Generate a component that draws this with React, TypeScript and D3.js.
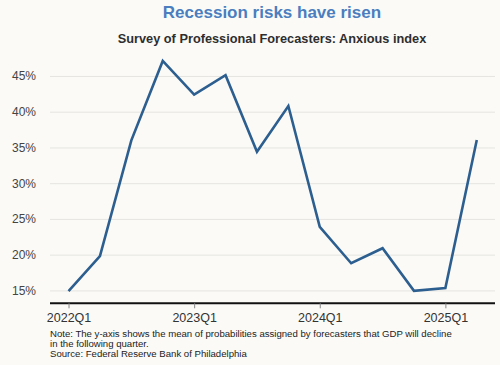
import React, { useEffect, useRef } from 'react';
import * as d3 from 'd3';

const quarters = [
  '2022Q1', '2022Q2', '2022Q3', '2022Q4',
  '2023Q1', '2023Q2', '2023Q3', '2023Q4',
  '2024Q1', '2024Q2', '2024Q3', '2024Q4',
  '2025Q1', '2025Q2'
];
const anxious = [14.9, 19.8, 36.0, 47.1, 42.4, 45.1, 34.4, 40.8, 23.9, 18.8, 20.9, 14.95, 15.35, 36.05];
const yTicks = [15, 20, 25, 30, 35, 40, 45];
const xTickLabels = ['2022Q1', '2023Q1', '2024Q1', '2025Q1'];
const noteLines = [
  'Note: The y-axis shows the mean of probabilities assigned by forecasters that GDP will decline',
  'in the following quarter.',
  'Source: Federal Reserve Bank of Philadelphia'
];

const FONT = "'Liberation Sans', Arial, sans-serif";

const App = () => {
  const svgRef = useRef<SVGSVGElement>(null);

  useEffect(() => {
    if (!svgRef.current) return;
    const svg = d3.select(svgRef.current);
    svg.selectAll('*').remove();

    const width = 500;
    const height = 365;

    svg.append('rect')
      .attr('width', width)
      .attr('height', height)
      .attr('fill', '#fbfaf7');

    // Title + subtitle
    svg.append('text')
      .attr('x', 272)
      .attr('y', 18)
      .attr('text-anchor', 'middle')
      .attr('font-family', FONT)
      .attr('font-size', '17px')
      .attr('font-weight', 'bold')
      .attr('fill', '#4a7ebf')
      .text('Recession risks have risen');

    svg.append('text')
      .attr('x', 272)
      .attr('y', 43)
      .attr('text-anchor', 'middle')
      .attr('font-family', FONT)
      .attr('font-size', '12.75px')
      .attr('font-weight', 'bold')
      .attr('fill', '#2e2e2e')
      .text('Survey of Professional Forecasters: Anxious index');

    const x = d3.scaleLinear().domain([-0.59, 13.58]).range([50, 495]);
    const y = d3.scaleLinear().domain([13.2, 48]).range([303.3, 54.5]);

    // gridlines + y labels
    const yAxis = svg.append('g')
      .attr('transform', 'translate(50,0)')
      .call(d3.axisLeft(y).tickValues(yTicks).tickSize(0).tickPadding(14).tickFormat(d => `${d}%`));
    yAxis.select('.domain').remove();
    yAxis.selectAll('.tick text')
      .attr('font-family', FONT)
      .attr('font-size', '12px')
      .attr('fill', '#444');
    yAxis.selectAll('.tick line').clone()
      .attr('x2', 445)
      .attr('stroke', '#e5e4e0')
      .attr('stroke-width', 1);

    // x axis
    const xAxis = svg.append('g')
      .attr('transform', `translate(0,${y.range()[0]})`)
      .call(d3.axisBottom(x)
        .tickValues(xTickLabels.map(q => quarters.indexOf(q)))
        .tickSize(5)
        .tickPadding(5)
        .tickFormat(i => quarters[i as number]));
    xAxis.select('.domain')
      .attr('stroke', '#111')
      .attr('stroke-width', 2)
      .attr('d', `M${x.range()[0]},0H${x.range()[1]}`);
    xAxis.selectAll('.tick line')
      .attr('stroke', '#888');
    xAxis.selectAll('.tick text')
      .attr('font-family', FONT)
      .attr('font-size', '12.5px')
      .attr('fill', '#333');

    // line
    const line = d3.line<number>()
      .x((_, i) => x(i))
      .y(d => y(d));

    svg.append('path')
      .datum(anxious)
      .attr('d', line)
      .attr('fill', 'none')
      .attr('stroke', '#2c5f8f')
      .attr('stroke-width', 2.6)
      .attr('stroke-linejoin', 'miter');

    // note
    noteLines.forEach((t, i) => {
      svg.append('text')
        .attr('x', 50)
        .attr('y', 337 + i * 10)
        .attr('font-family', FONT)
        .attr('font-size', '9.6px')
        .attr('fill', '#222')
        .text(t);
    });
  }, []);

  return (
    <div style={{ position: 'absolute', top: 0, left: 0 }}>
      <svg ref={svgRef} width={500} height={365} style={{ display: 'block' }}></svg>
    </div>
  );
};

export default App;
